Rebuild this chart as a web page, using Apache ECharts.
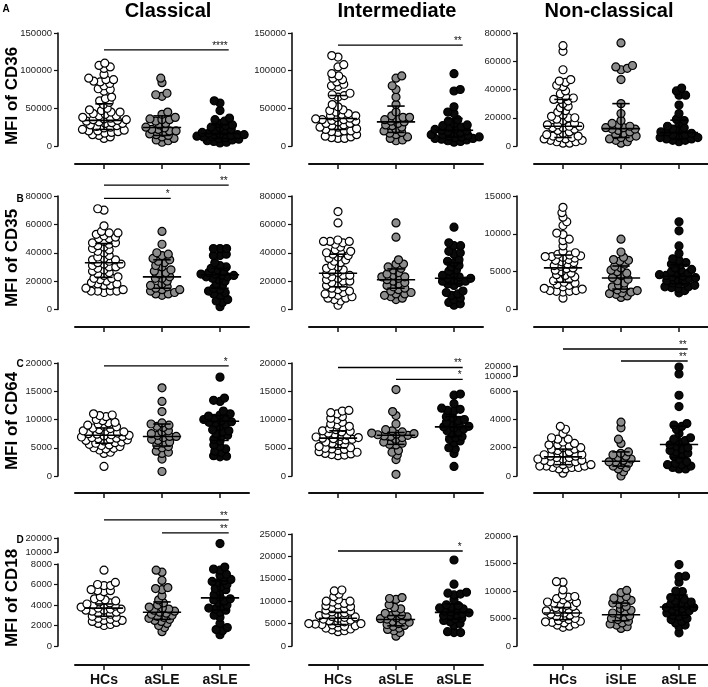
<!DOCTYPE html>
<html><head><meta charset="utf-8">
<script src="https://cdn.jsdelivr.net/npm/echarts@6/dist/echarts.min.js"></script>
<style>html,body{margin:0;padding:0;background:#fff}#c{width:708px;height:687px}</style>
</head><body><div id="c"></div>
<script>
// ---------- labels ----------
const groupsAB = ['HCs','aSLE','aSLE'];
const groupsNC = ['HCs','iSLE','aSLE'];
const colTitles = ['Classical','Intermediate','Non-classical'];
const rowTitles = ['MFI of CD36','MFI of CD35','MFI of CD64','MFI of CD18'];
const panelLetters = ['A','B','C','D'];

// ---------- Row A : CD36 ----------
const cd36_cla_hc = [110000,107000,105000,103000,95000,90000,88000,88000,86000,85000,83000,80000,76000,75000,73000,65000,63000,60000,58000,55000,50000,48000,47000,45000,45000,43000,42000,40000,40000,38000,37000,36000,35000,35000,34000,33000,32000,31000,30000,30000,28000,27000,26000,25000,24000,22000,21000,20000,20000,19000,18000,17000,15000,14000,12000,10000];
const cd36_cla_g = [90000,84000,70000,68000,66000,45000,42000,38000,36000,35000,35000,33000,30000,28000,25000,24000,22000,22000,20000,20000,18000,16000,15000,14000,12000,10000,8000,7000,5000];
const cd36_cla_b = [60000,57000,47000,37000,35000,33000,30000,28000,27000,25000,24000,22000,20000,20000,18000,17000,16000,15000,15000,14000,13000,12000,12000,11000,10000,9000,8000,7000,6000,5000,4000];
const cd36_cla_stats = [[34000,22000,56000],[24500,14000,40000],[16500,10000,28500]];
const cd36_cla_sig = [[0,2,127700,'****']];

const cd36_int_hc = [120000,118000,108000,105000,96000,93000,90000,88000,85000,82000,80000,79000,70000,68000,67000,65000,55000,52000,48000,47000,45000,43000,42000,40000,40000,38000,37000,36000,35000,35000,34000,33000,32000,30000,30000,28000,27000,25000,25000,23000,22000,20000,20000,19000,18000,15000,13000,12000,11000,10000,10000];
const cd36_int_g = [93000,90000,80000,75000,65000,55000,45000,40000,38000,38000,36000,35000,33000,32000,30000,28000,27000,25000,22000,20000,18000,17000,15000,12000,10000,8000,7000];
const cd36_int_b = [96000,75000,73000,52000,45000,43000,35000,33000,30000,28000,27000,25000,25000,23000,22000,21000,20000,19000,18000,17000,15000,15000,14000,13000,12000,12000,11000,10000,10000,9000,8000,7000,6000,5000];
const cd36_int_stats = [[36500,22000,67000],[32000,18000,53000],[21000,12000,36500]];
const cd36_int_sig = [[0,2,134000,'**']];

const cd36_non_hc = [71000,67000,54000,47000,46000,45000,43000,42000,39000,37000,35000,34000,33000,33000,32000,30000,28000,27000,25000,24000,22000,21000,20000,20000,19000,18000,16000,15000,15000,14000,14000,13000,13000,12000,11000,10000,9000,8000,7000,7000,6000,6000,5000,5000,4000,4000,3000,3000,2000,2000];
const cd36_non_g = [73000,57000,56000,55000,54000,47000,30000,23000,18000,16000,15000,14000,13000,13000,12000,12000,11000,10000,9000,8000,7000,6000,6000,5000,4000,3000,2000];
const cd36_non_b = [41000,39000,36000,36000,29000,23000,19000,18000,16000,14000,13000,12000,11000,10000,10000,9000,8000,8000,7000,6000,6000,5000,5000,4000,4000,3000];
const cd36_non_stats = [[14000,6000,33000],[12300,6000,30000],[9500,5000,18300]];
const cd36_non_sig = [];

// ---------- Row B : CD35 ----------
const cd35_cla_hc = [71000,70000,59000,55000,54000,54000,53000,52000,51000,50000,50000,48000,47000,47000,46000,45000,44000,43000,42000,41000,40000,38000,37000,36000,35000,35000,34000,33000,32000,32000,31000,30000,30000,29000,28000,27000,26000,25000,24000,23000,22000,22000,21000,20000,19000,18000,18000,17000,17000,15000,14000,13000,13000,13000,13000,12000];
const cd35_cla_g = [55000,46000,40000,39000,38000,36000,35000,34000,33000,31000,30000,28000,27000,26000,25000,23000,22000,22000,20000,18000,17000,16000,15000,14000,14000,13000,12000,11000,11000,10000];
const cd35_cla_b = [43000,43000,43000,39000,38000,38000,33000,31000,30000,29000,28000,27000,26000,25000,25000,24000,24000,23000,23000,22000,21000,20000,18000,17000,15000,14000,13000,12000,11000,10000,7000,6000,5000,2000];
const cd35_cla_stats = [[33000,22700,46500],[23000,15000,35000],[24500,15000,29000]];
const cd35_cla_sig = [[0,2,87600,'**'],[0,1,78300,'*']];

const cd35_int_hc = [69000,61000,49000,48000,48000,48000,47000,46000,44000,42000,41000,40000,40000,39000,38000,37000,36000,35000,34000,33000,31000,30000,29000,28000,27000,26000,25000,24000,24000,23000,22000,21000,20000,20000,19000,18000,17000,16000,15000,14000,13000,12000,11000,11000,10000,9000,8000,8000,7000,6000,3000];
const cd35_int_g = [61000,51000,35000,32000,32000,30000,29000,28000,26000,25000,24000,23000,23000,22000,21000,20000,19000,18000,17000,16000,15000,14000,13000,12000,11000,11000,10000,9000,8000,7000];
const cd35_int_b = [58000,47000,45000,45000,41000,40000,39000,35000,34000,33000,31000,30000,28000,27000,25000,24000,23000,22000,22000,21000,20000,20000,19000,18000,17000,13000,12000,11000,10000,8000,7000,5000,4000,3000];
const cd35_int_stats = [[25500,16000,39000],[21000,15000,28600],[22000,18000,33000]];
const cd35_int_sig = [];

const cd35_non_hc = [13500,12800,12200,11600,11100,10100,9900,9300,9100,8400,7700,7500,7300,7200,7100,7000,7000,6900,6800,6600,6500,6300,6200,6000,5800,5700,5500,5400,5200,5000,4800,4600,4500,4300,4100,4000,3800,3600,3500,3300,3200,3000,2800,2700,2500,2500,2400,2400,2300,1500];
const cd35_non_g = [9300,7600,6900,6600,6500,6400,6000,5700,5500,5200,5000,4800,4500,4200,4000,3800,3500,3200,3000,2800,2600,2500,2300,2200,2100,2000,1800,1600];
const cd35_non_b = [11600,10400,8400,7400,6700,6500,6200,6000,5900,5500,5300,5200,5000,4800,4700,4600,4500,4400,4300,4200,4100,4000,3800,3600,3500,3400,3200,3000,3000,2900,2800,2500,2200];
const cd35_non_stats = [[5500,3600,7200],[4170,2700,5750],[4400,3400,5900]];
const cd35_non_sig = [];

// ---------- Row C : CD64 ----------
const cd64_cla_hc = [11000,10800,10700,10500,10000,9800,9500,9400,9200,9000,8800,8700,8500,8400,8200,8000,7900,7800,7600,7500,7400,7300,7200,7100,7000,6900,6800,6700,6600,6500,6400,6300,6200,6000,5900,5800,5600,5500,5400,5200,5000,4900,4800,4600,4200,4000,1700];
const cd64_cla_g = [15600,13200,11400,9400,9200,9000,8800,8600,8000,7800,7500,7200,7000,7000,6800,6500,6300,6000,5800,5500,5200,5000,4400,4200,4000,3000,800];
const cd64_cla_b = [17500,13800,13400,13200,11500,11000,10800,10600,10400,10200,10000,9800,9600,9500,9400,9200,8800,8200,8000,7800,7500,7200,7000,6500,6200,5500,5200,4800,4400,4200,3600,3500,3400];
const cd64_cla_stats = [[7200,5800,8500],[7000,5300,9200],[9700,6300,10700]];
const cd64_cla_sig = [[0,2,19500,'*']];

const cd64_int_hc = [11600,11500,11200,11000,10500,10200,10000,9500,9200,9000,8800,8600,8400,8200,8000,7900,7800,7600,7400,7200,7000,6900,6800,6700,6600,6500,6400,6200,6000,5800,5600,5400,5200,5000,4900,4800,4700,4500,4300,4200,4000,3900,3800,3700,3600];
const cd64_int_g = [15300,11400,10700,9200,8200,8000,7800,7600,7500,7400,7300,7200,7100,7000,6800,6500,6000,5800,5600,5500,4500,4200,3700,2900,300];
const cd64_int_b = [14500,14300,12800,12000,11800,11600,11500,10500,10300,10000,9800,9500,9300,9000,8800,8700,8500,8300,8000,7800,7500,7000,6800,6500,6200,5900,5000,4800,4000,1700];
const cd64_int_stats = [[6700,5000,8000],[7200,5600,7700],[8700,7000,10500]];
const cd64_int_sig = [[0,2,19200,'**'],[1,2,17100,'*']];

const cd64_non_hc = [3500,3300,3000,2700,2600,2600,2400,2300,2200,2200,2100,2000,2000,1900,1900,1800,1700,1600,1500,1500,1400,1400,1300,1300,1200,1200,1100,1100,1000,1000,900,900,800,800,700,700,700,600,600,600,500,500,200];
const cd64_non_g = [3800,3400,2600,2300,1700,1600,1500,1400,1300,1200,1100,1000,1000,900,800,700,600,500,300,0];
const cd64_non_b = [19000,12000,5700,4900,3700,3600,3500,3300,3000,2700,2600,2500,2400,2200,2100,2000,1900,1800,1700,1600,1500,1400,1200,1000,900,800,800,700,600,500,500];
const cd64_non_stats = [[1350,800,1900],[1040,700,1700],[2220,1300,3520]];
const cd64_non_sig = [[0,2,37000,'**'],[1,2,25000,'**']];

// ---------- Row D : CD18 ----------
const cd18_cla_hc = [7400,6200,6000,5900,5900,5500,5400,5400,5300,4800,4600,4500,4400,4300,4200,4100,4000,4000,3900,3800,3700,3600,3600,3500,3500,3400,3300,3200,3100,3000,2900,2800,2700,2600,2500,2500,2400,2300,2200,2100,2000];
const cd18_cla_g = [7400,7200,6400,5700,5600,5500,4900,4500,4200,4000,3800,3700,3600,3500,3400,3300,3200,3100,3000,2900,2800,2700,2600,2500,2400,2200,2000,1800,1400];
const cd18_cla_b = [16000,7700,7500,7400,7000,6900,6500,6400,6300,6200,6000,5800,5600,5500,5300,5000,4800,4600,4500,4400,4200,4000,3800,3700,3600,3500,3300,3000,2800,2200,1800,1600,1500,1100];
const cd18_cla_stats = [[3700,2900,4100],[3300,2600,4300],[4700,3500,6340]];
const cd18_cla_sig = [[0,2,32900,'**'],[1,2,23600,'**']];

const cd18_int_hc = [12500,12300,11600,11000,10300,10000,10000,9800,9500,9200,9000,8800,8600,8400,8200,8000,7800,7600,7400,7200,7000,6800,6600,6500,6400,6200,6000,5800,5600,5400,5200,5000,5000,4900,4800,4700,4500,4400,4200,4000,3800,3600,3400,3200];
const cd18_int_g = [10800,10600,10400,9200,8600,8300,7600,7300,7000,6800,6500,6300,6100,6000,5800,5500,5300,5000,4800,4600,4400,4000,3700,3400,3000,2200];
const cd18_int_b = [19200,13800,12000,11800,11600,11400,10300,9200,9000,8700,8500,8300,8000,7800,7600,7400,7200,7000,6800,6600,6200,6000,5700,5400,5000,4600,3200,3000,3000];
const cd18_int_stats = [[6200,4800,7500],[5900,4500,6800],[7500,6000,9400]];
const cd18_int_sig = [[0,2,21200,'*']];

const cd18_non_hc = [11700,11600,10200,9300,9000,8900,8600,8400,8000,7900,7800,7600,7400,7200,7000,6800,6600,6400,6200,6000,6000,5800,5600,5400,5200,5000,4800,4600,4500,4400,4300,4200,4000,3800,3600,3400];
const cd18_non_g = [10100,9700,9000,8700,8600,8300,8000,7800,7600,7200,6800,6500,6200,6000,5800,5500,5200,5000,4800,4500,4200,4000,3800,3500,3200];
const cd18_non_b = [14800,12700,12600,11600,10000,9900,9200,8800,8500,8200,8000,7800,7600,7400,7200,7000,7000,6800,6600,6400,6200,6000,5800,5600,5400,5000,4800,4500,4200,3800,3500,2400];
const cd18_non_stats = [[6000,4800,7000],[5690,4600,7800],[7100,5600,9270]];
const cd18_non_sig = [];

// ---------- layout ----------
const FONT = 'Liberation Sans, Arial, sans-serif';
const colLeft = [75, 309, 534];
const plotW = 174;
const unitPx = plotW / 3;
const rowGeom = [
  {top: 33, bottom: 146, axisY: 164},
  {top: 196, bottom: 309.5, axisY: 327},
  {top: 363, bottom: 476, axisY: 493},
  {top: 536, bottom: 649, axisY: 668}
];
const panels = [
  {r:0,c:0,vals:[cd36_cla_hc,cd36_cla_g,cd36_cla_b],stats:cd36_cla_stats,sig:cd36_cla_sig,max:150000,step:50000},
  {r:0,c:1,vals:[cd36_int_hc,cd36_int_g,cd36_int_b],stats:cd36_int_stats,sig:cd36_int_sig,max:150000,step:50000},
  {r:0,c:2,vals:[cd36_non_hc,cd36_non_g,cd36_non_b],stats:cd36_non_stats,sig:cd36_non_sig,max:80000,step:20000},
  {r:1,c:0,vals:[cd35_cla_hc,cd35_cla_g,cd35_cla_b],stats:cd35_cla_stats,sig:cd35_cla_sig,max:80000,step:20000},
  {r:1,c:1,vals:[cd35_int_hc,cd35_int_g,cd35_int_b],stats:cd35_int_stats,sig:cd35_int_sig,max:80000,step:20000},
  {r:1,c:2,vals:[cd35_non_hc,cd35_non_g,cd35_non_b],stats:cd35_non_stats,sig:cd35_non_sig,max:15000,step:5000},
  {r:2,c:0,vals:[cd64_cla_hc,cd64_cla_g,cd64_cla_b],stats:cd64_cla_stats,sig:cd64_cla_sig,max:20000,step:5000},
  {r:2,c:1,vals:[cd64_int_hc,cd64_int_g,cd64_int_b],stats:cd64_int_stats,sig:cd64_int_sig,max:20000,step:5000},
  {r:2,c:2,vals:[cd64_non_hc,cd64_non_g,cd64_non_b],stats:cd64_non_stats,sig:cd64_non_sig,
     brk:{lowMax:6000,lowStep:2000,upMin:10000,upMax:20000,upTop:366,upBottom:376,lowTop:391}},
  {r:3,c:0,vals:[cd18_cla_hc,cd18_cla_g,cd18_cla_b],stats:cd18_cla_stats,sig:cd18_cla_sig,
     brk:{lowMax:8000,lowStep:2000,upMin:10000,upMax:20000,upTop:538,upBottom:552,lowTop:564}},
  {r:3,c:1,vals:[cd18_int_hc,cd18_int_g,cd18_int_b],stats:cd18_int_stats,sig:cd18_int_sig,max:25000,step:5000,top:534},
  {r:3,c:2,vals:[cd18_non_hc,cd18_non_g,cd18_non_b],stats:cd18_non_stats,sig:cd18_non_sig,max:20000,step:5000}
];
const fills = ['#ffffff', '#8c8c8c', '#0a0a0a'];
const SX = 6.6, SY = 4.6; // anisotropic collision radii (px) for the swarm layout

function swarm(vals, pyFn) {
  const pts = vals.map(v => ({v: v, y: pyFn(v)})).sort((a, b) => b.y - a.y);
  const placed = [];
  let flip = 1;
  const hit = (dx, dy) => (dx / SX) * (dx / SX) + (dy / SY) * (dy / SY) < 0.999;
  pts.forEach(p => {
    const cands = [0];
    placed.forEach(q => {
      const dy = Math.abs(p.y - q.y);
      if (dy < SY) { const dx = SX * Math.sqrt(1 - (dy / SY) * (dy / SY)); cands.push(q.x + dx, q.x - dx); }
    });
    cands.sort((a, b) => (Math.abs(a) - Math.abs(b)) || (flip * (b - a)));
    let x = 0;
    for (const cx of cands) {
      let ok = true;
      for (const q of placed) { if (hit(cx - q.x, p.y - q.y)) { ok = false; break; } }
      if (ok) { x = cx; break; }
    }
    if (x !== 0) flip = -flip;
    p.x = x;
    placed.push(p);
  });
  return pts;
}

const grids = [], xAxes = [], yAxes = [], series = [], graphics = [];

function yAxisCfg(gi, min, max, step) {
  return {
    gridIndex: gi, type: 'value', min: min, max: max, interval: step, offset: 17,
    axisLine: {show: true, onZero: false, lineStyle: {color: '#111', width: 1.6}},
    axisTick: {show: true, length: 4, lineStyle: {color: '#111', width: 1.2}},
    axisLabel: {fontSize: 9.5, color: '#222', margin: 6, fontFamily: FONT, formatter: v => String(v)},
    splitLine: {show: false}
  };
}
function xAxisCfg(gi, offset, names, showLabels, show) {
  return {
    gridIndex: gi, type: 'value', min: -0.5, max: 2.5, position: 'bottom', offset: offset, show: show,
    axisLine: {show: true, onZero: false, lineStyle: {color: '#111', width: 2}},
    axisTick: {show: true, length: 5, customValues: [0, 1, 2], lineStyle: {color: '#111', width: 1.5}},
    axisLabel: {show: showLabels, customValues: [0, 1, 2], margin: 8, fontSize: 14, fontWeight: 'bold',
      color: '#111', fontFamily: FONT, formatter: v => names[Math.round(v)]},
    splitLine: {show: false}
  };
}

function statsSeries(gi, stats) {
  return {
    type: 'custom', xAxisIndex: gi, yAxisIndex: gi, z: 5, clip: false, silent: true,
    data: stats.map((s, i) => [i, s[0], s[1], s[2]]),
    encode: {x: 0, y: [1, 2, 3]},
    renderItem: (params, api) => {
      const x = api.value(0), med = api.value(1), q1 = api.value(2), q3 = api.value(3);
      const st = {stroke: '#000', lineWidth: 1.6};
      const L = (a, b) => ({type: 'line', shape: {x1: a[0], y1: a[1], x2: b[0], y2: b[1]}, style: st});
      return {type: 'group', children: [
        L(api.coord([x - 0.33, med]), api.coord([x + 0.33, med])),
        L(api.coord([x, q1]), api.coord([x, q3])),
        L(api.coord([x - 0.15, q1]), api.coord([x + 0.15, q1])),
        L(api.coord([x - 0.15, q3]), api.coord([x + 0.15, q3]))
      ]};
    }
  };
}
function sigSeries(gi, sig) {
  return {
    type: 'custom', xAxisIndex: gi, yAxisIndex: gi, z: 5, clip: false, silent: true,
    data: sig.map(s => [s[0], s[1], s[2]]),
    encode: {x: [0, 1], y: 2},
    renderItem: (params, api) => {
      const a = api.coord([api.value(0), api.value(2)]);
      const b = api.coord([api.value(1) + 0.15, api.value(2)]);
      return {type: 'group', children: [
        {type: 'line', shape: {x1: a[0], y1: a[1], x2: b[0], y2: b[1]}, style: {stroke: '#000', lineWidth: 1.3}},
        {type: 'text', x: b[0] - 1, y: a[1] + 1, style: {text: sig[params.dataIndex][3], align: 'right',
          verticalAlign: 'bottom', font: '10px ' + FONT, fill: '#111'}}
      ]};
    }
  };
}

panels.forEach(p => {
  const g = rowGeom[p.r];
  const left = colLeft[p.c];
  const names = p.c === 2 ? groupsNC : groupsAB;
  const showLabels = p.r === 3;
  if (!p.brk) {
    const top = p.top || g.top;
    const gi = grids.length;
    grids.push({left: left, top: top, width: plotW, height: g.bottom - top});
    xAxes.push(xAxisCfg(gi, g.axisY - g.bottom, names, showLabels, true));
    yAxes.push(yAxisCfg(gi, 0, p.max, p.step));
    const pyFn = v => g.bottom - v / p.max * (g.bottom - top);
    p.vals.forEach((vals, k) => {
      const pts = swarm(vals, pyFn);
      series.push({type: 'scatter', xAxisIndex: gi, yAxisIndex: gi, z: 3, clip: false, silent: true,
        symbol: 'circle', symbolSize: 8,
        itemStyle: {color: fills[k], borderColor: '#000', borderWidth: 1.2, opacity: 1},
        data: pts.map(q => [k + q.x / unitPx, q.v])});
    });
    series.push(statsSeries(gi, p.stats));
    if (p.sig.length) series.push(sigSeries(gi, p.sig));
  } else {
    const b = p.brk;
    const gl = grids.length;
    grids.push({left: left, top: b.lowTop, width: plotW, height: g.bottom - b.lowTop});
    xAxes.push(xAxisCfg(gl, g.axisY - g.bottom, names, showLabels, true));
    yAxes.push(yAxisCfg(gl, 0, b.lowMax, b.lowStep));
    const gu = grids.length;
    grids.push({left: left, top: b.upTop, width: plotW, height: b.upBottom - b.upTop});
    xAxes.push(xAxisCfg(gu, 0, names, false, false));
    yAxes.push(yAxisCfg(gu, b.upMin, b.upMax, b.upMax - b.upMin));
    const pyFn = v => v <= b.lowMax ? g.bottom - v / b.lowMax * (g.bottom - b.lowTop)
                                    : b.upBottom - (v - b.upMin) / (b.upMax - b.upMin) * (b.upBottom - b.upTop);
    p.vals.forEach((vals, k) => {
      const pts = swarm(vals, pyFn);
      const lo = pts.filter(q => q.v <= b.lowMax), hi = pts.filter(q => q.v > b.lowMax);
      [[gl, lo], [gu, hi]].forEach(([gi, arr]) => {
        series.push({type: 'scatter', xAxisIndex: gi, yAxisIndex: gi, z: 3, clip: false, silent: true,
          symbol: 'circle', symbolSize: 8,
          itemStyle: {color: fills[k], borderColor: '#000', borderWidth: 1.2, opacity: 1},
          data: arr.map(q => [k + q.x / unitPx, q.v])});
      });
    });
    series.push(statsSeries(gl, p.stats));
    if (p.sig.length) series.push(sigSeries(gu, p.sig));
  }
});

// titles
const colTitleX = [168, 397, 609];
colTitles.forEach((t, i) => graphics.push({type: 'text', x: colTitleX[i], y: 11,
  style: {text: t, font: 'bold 20px ' + FONT, fill: '#000', align: 'center', verticalAlign: 'middle'}}));
const rowTitleY = [96, 258, 421, 598];
rowTitles.forEach((t, i) => graphics.push({type: 'text', x: 12, y: rowTitleY[i], rotation: Math.PI / 2,
  style: {text: t, font: 'bold 17px ' + FONT, fill: '#000', align: 'center', verticalAlign: 'middle'}}));
const letterPos = [[6, 9], [20, 199], [20, 364], [20, 540]];
panelLetters.forEach((t, i) => graphics.push({type: 'text', x: letterPos[i][0], y: letterPos[i][1],
  style: {text: t, font: 'bold 10px ' + FONT, fill: '#000', align: 'center', verticalAlign: 'middle'}}));

const chart = echarts.init(document.getElementById('c'), null, {renderer: 'canvas'});
chart.setOption({
  animation: false,
  backgroundColor: '#fff',
  grid: grids, xAxis: xAxes, yAxis: yAxes, series: series, graphic: graphics
});
</script>
</body></html>
